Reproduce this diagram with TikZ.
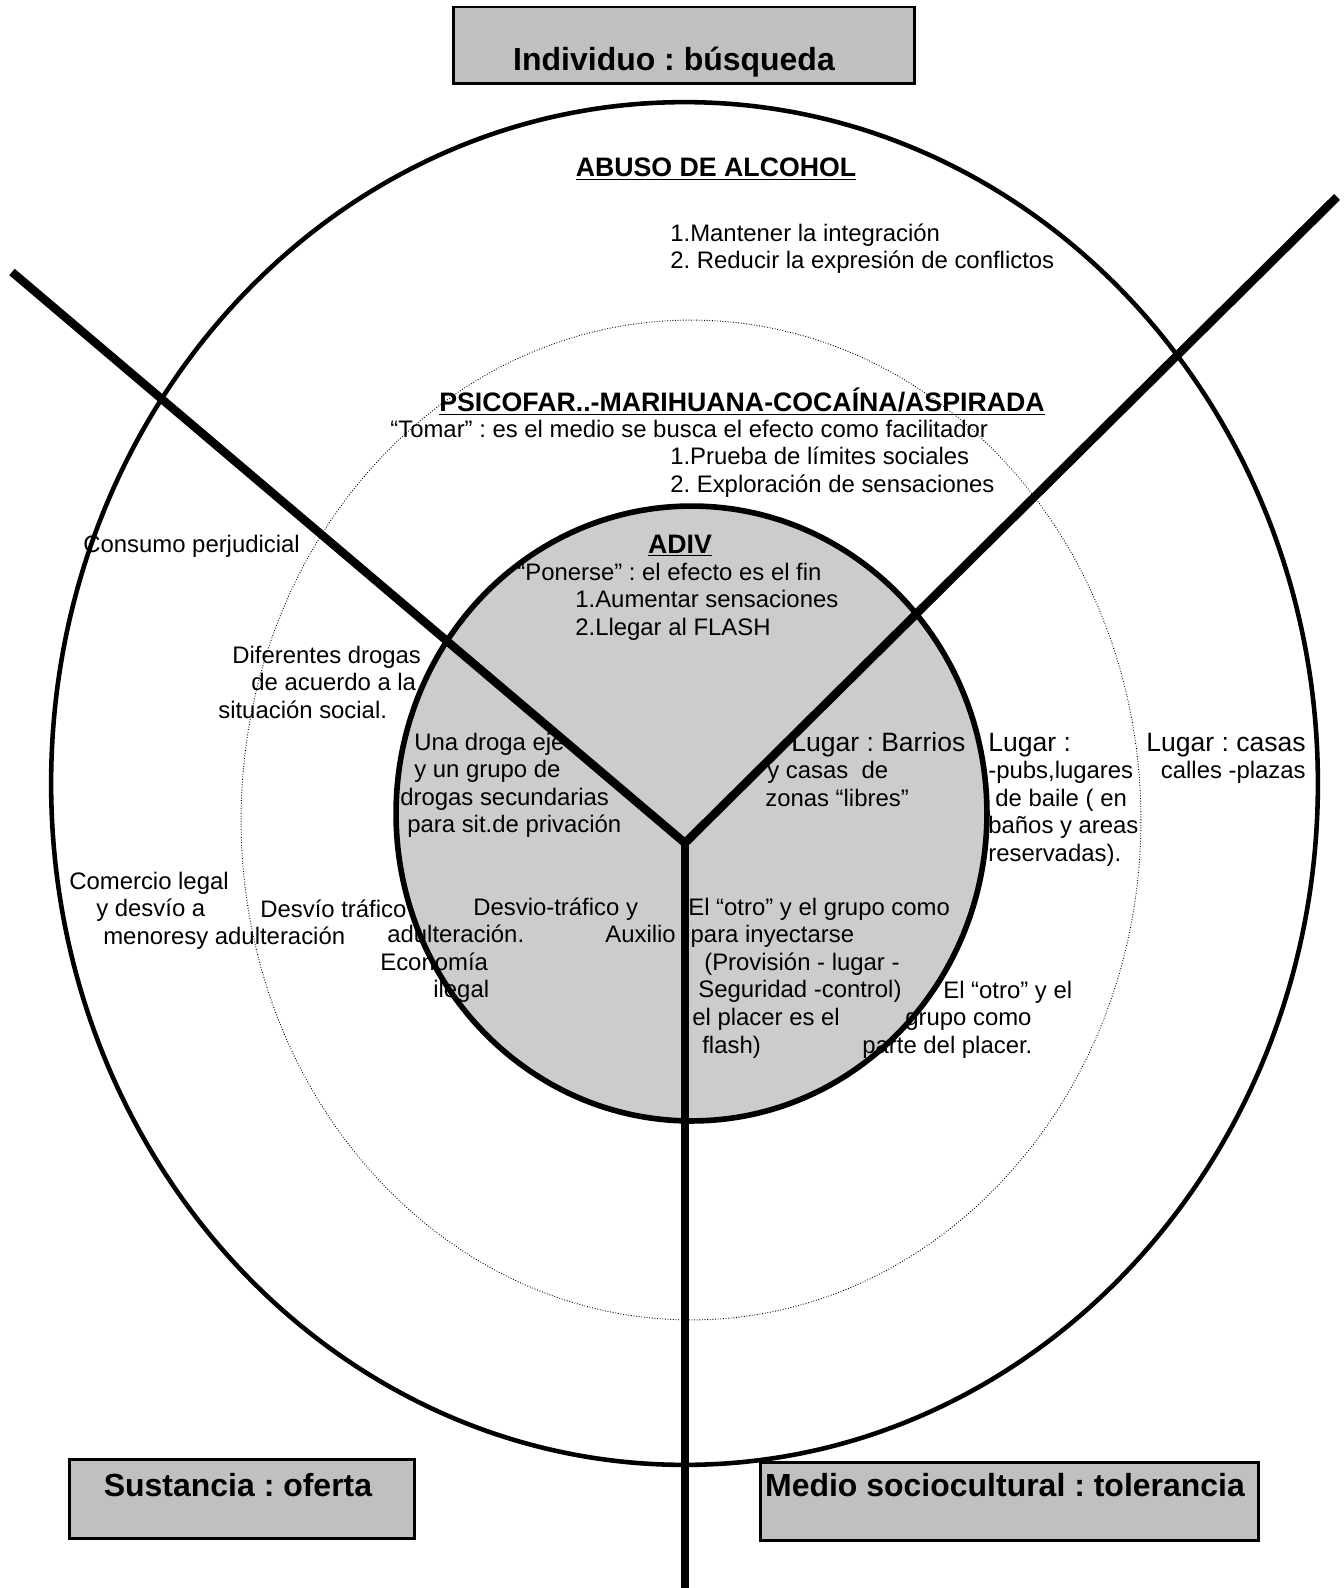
\documentclass[tikz,border=0pt]{standalone}
\usepackage{fontspec}
\setmainfont{Liberation Sans}
\frenchspacing
\definecolor{boxgray}{HTML}{C0C0C0}
\definecolor{adivgray}{HTML}{CCCCCC}
\newcommand{\bodyfont}{\fontsize{13.6}{15.7}\selectfont}
\newcommand{\lugarfont}{\fontsize{15.1}{15.7}\selectfont}
\newcommand{\headfont}{\fontsize{15.2}{17}\selectfont\bfseries}
\newcommand{\titlefont}{\fontsize{18.2}{21}\selectfont\bfseries}

\begin{document}
\begin{tikzpicture}[x=0.02cm, y=-0.02cm,
    txt/.style={inner sep=0pt, align=left, anchor=base west, font=\bodyfont},
    head/.style={inner sep=0pt, anchor=base, font=\headfont},
    titlebox/.style={draw, line width=1.7pt, fill=boxgray, font=\titlefont, inner sep=0pt},
    ring/.style={line width=2.6pt},
    axisline/.style={line width=4.8pt}]
        \useasboundingbox (0,0) rectangle (1343,1588);
        % Inner zone (ADIV), filled first so text sits on it
        \fill[adivgray] (691.5,813.5) ellipse [x radius=5.91cm, y radius=6.15cm];
        % Outer zone: alcohol (text nodes sit on the baseline of their last line)
        \node[head] (abuso) at (716,177) {\underline{ABUSO DE ALCOHOL}};
        \node[txt] (mantener) at (670,268.6) {1.Mantener la integración\\2. Reducir la expresión de conflictos};
        % Middle zone
        \node[head, anchor=base west] (psico) at (439,411) {\underline{PSICOFAR..-MARIHUANA-COCAÍNA/ASPIRADA}};
        \node[txt] (tomar) at (390,492.2) {“Tomar” : es el medio se busca el efecto como facilitador\\
          \hspace*{5.6cm}1.Prueba de límites sociales\\
          \hspace*{5.6cm}2. Exploración de sensaciones};
        % Inner zone
        \node[head] (adiv) at (680,553) {\underline{ADIV}};
        \node[txt] (ponerse) at (517,635.2) {“Ponerse” : el efecto es el fin\\
          \hspace*{1.16cm}1.Aumentar sensaciones\\
          \hspace*{1.16cm}2.Llegar al FLASH};
        % Sector: sustancia
        \node[txt] (consumo) at (83,552) {Consumo perjudicial};
        \node[txt] (diferentes) at (218,718.2) {\hspace*{0.28cm}Diferentes drogas\\
          \hspace*{0.66cm}de acuerdo a la\\situación social.};
        \node[txt] (unadroga) at (400,832.8) {\hspace*{0.28cm}Una droga eje\\
          \hspace*{0.28cm}y un grupo de\\drogas secundarias\\
          \hspace*{0.14cm}para sit.de privación};
        \node[txt] (comercio) at (69,944.2) {Comercio legal\\
          \hspace*{0.54cm}y desvío a\\\hspace*{0.68cm}menores};
        \node[txt] (desvio) at (196,944.6) {\hspace*{1.28cm}Desvío tráfico\\y adulteración};
        \node[txt] (ilegal) at (380,997.8) {\hspace*{1.86cm}Desvio-tráfico y\\
          \hspace*{0.14cm}adulteración.\\Economía\\\hspace*{1.06cm}ilegal};
        % Sector: medio sociocultural
        \node[txt] (barrios) at (765,806.2) {\hspace*{0.52cm}{\lugarfont Lugar : Barrios}\\
          \hspace*{0.04cm}y casas~~de\\zonas “libres”};
        \node[txt] (pubs) at (988,861.4) {{\lugarfont Lugar :}\\-pubs,lugares\\
          \hspace*{0.14cm}de baile ( en\\baños y areas\\reservadas).};
        \node[txt, align=right, anchor=base east] (casas) at (1306,778.6) {{\lugarfont Lugar : casas}\\calles -plazas};
        \node[txt] (otro) at (605,1053) {\hspace*{1.66cm}El “otro” y el grupo como\\
          Auxilio\hspace*{0.3cm}para inyectarse\\
          \hspace*{1.98cm}(Provisión - lugar -\\
          \hspace*{1.86cm}Seguridad -control)\\
          \hspace*{1.74cm}el placer es el\\
          \hspace*{1.94cm}flash)};
        \node[txt] (placer) at (862,1053.2) {\hspace*{1.62cm}El “otro” y el\\
          \hspace*{0.86cm}grupo como\\parte del placer.};
        % Rings
        \draw[densely dotted, line width=0.5pt] (691,820) ellipse [x radius=9cm, y radius=10cm];
        \draw[ring] (684.5,783.5) ellipse [x radius=12.67cm, y radius=13.63cm];
        \draw[line width=3.2pt] (691.5,813.5) ellipse [x radius=5.91cm, y radius=6.15cm];
        % The three sectors
        \coordinate (hub) at (685,843);
        \coordinate (nw) at (12,272);
        \coordinate (ne) at (1337,197);
        \coordinate (south) at (685,1588);
        \draw[axisline] (nw) -- (hub) -- (ne);
        \draw[axisline] (hub) -- (south);
        % Factor boxes
        \node[titlebox, minimum width=9.24cm, minimum height=1.54cm] (individuo) at (684,45.5)
          {\hspace*{-0.4cm}\raisebox{-0.35cm}[0.7em][0.2em]{Individuo : búsqueda}};
        \node[titlebox, minimum width=6.92cm, minimum height=1.58cm] (sustancia) at (242,1498.5)
          {\hspace*{-0.16cm}\raisebox{0.2cm}[0.7em][0.2em]{Sustancia : oferta}};
        \node[titlebox, minimum width=9.98cm, minimum height=1.56cm] (medio) at (1009.5,1501)
          {\hspace*{-0.18cm}\raisebox{0.25cm}[0.7em][0.2em]{Medio sociocultural : tolerancia}};
\end{tikzpicture}
\end{document}
